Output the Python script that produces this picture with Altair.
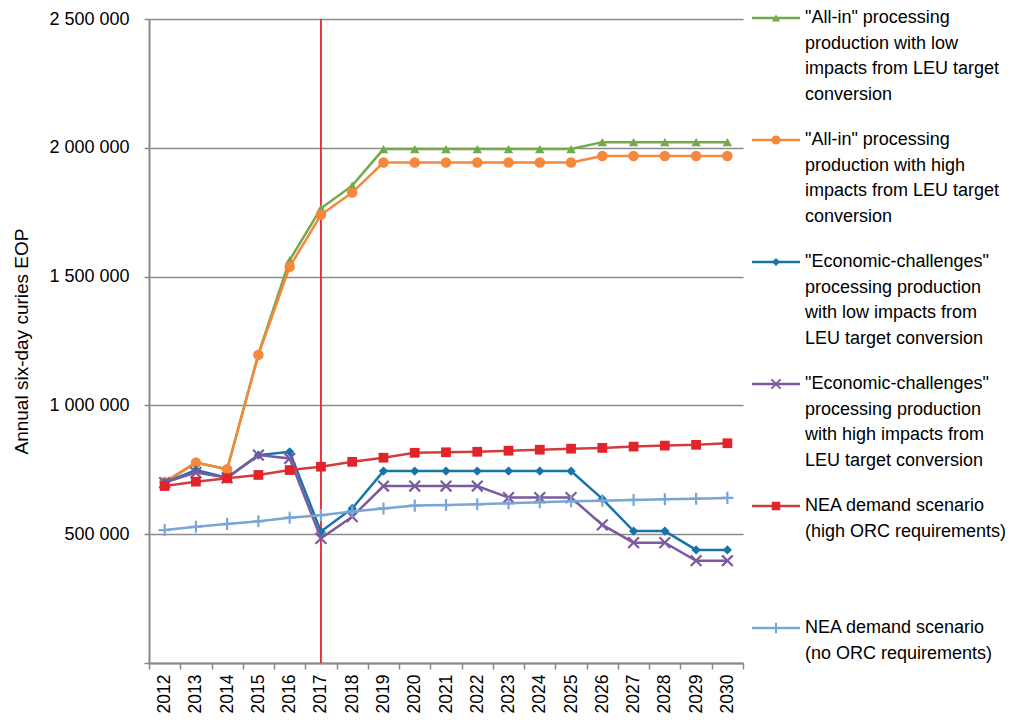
import altair as alt
import pandas as pd

# ---------------- data ----------------
years = list(range(2012, 2031))

allin_low = [700000, 778000, 752000, 1200000, 1564000, 1765000, 1853000,
             1995000, 1995000, 1995000, 1995000, 1995000, 1995000, 1995000,
             2022000, 2022000, 2022000, 2022000, 2022000]
allin_high = [703000, 778000, 752000, 1196000, 1538000, 1740000, 1826000,
              1943000, 1943000, 1943000, 1943000, 1943000, 1943000, 1943000,
              1968000, 1968000, 1968000, 1968000, 1968000]
econ_low = [700000, 749000, 719000, 807000, 820000, 510000, 600000,
            745000, 745000, 745000, 745000, 745000, 745000, 745000,
            637000, 512000, 512000, 439000, 439000]
econ_high = [700000, 739000, 719000, 807000, 794000, 484000, 568000,
             687000, 687000, 687000, 687000, 642000, 642000, 642000,
             536000, 467000, 467000, 397000, 397000]
nea_high = [687000, 704000, 717000, 730000, 749000, 762000, 781000,
            797000, 816000, 818000, 820000, 824000, 828000, 832000,
            835000, 840000, 844000, 847000, 853000]
nea_none = [516000, 529000, 540000, 550000, 564000, 574000, 588000,
            600000, 611000, 613000, 616000, 620000, 624000, 628000,
            630000, 633000, 636000, 638000, 641000]

series_labels = [
    '"All-in" processing\nproduction with low\nimpacts from LEU target\nconversion',
    '"All-in" processing\nproduction with high\nimpacts from LEU target\nconversion',
    '"Economic-challenges"\nprocessing production\nwith low impacts from\nLEU target conversion',
    '"Economic-challenges"\nprocessing production\nwith high impacts from\nLEU target conversion',
    'NEA demand scenario\n(high ORC requirements)',
    'NEA demand scenario\n(no ORC requirements)',
]
series_values = [allin_low, allin_high, econ_low, econ_high, nea_high, nea_none]

marker_year = [2017]
y_ticks = [0, 500000, 1000000, 1500000, 2000000, 2500000]
y_title = "Annual six-day curies EOP"

# ---------------- styles ----------------
FONT = "'Liberation Sans', Arial, sans-serif"
X_PATH = "M-1,-1L1,1M-1,1L1,-1"
PLUS_PATH = "M0,-1L0,1M-1,0L1,0"
styles = [
    dict(line="#72a94b", fill="#72a94b", shape="triangle-up", size=90, filled=True),
    dict(line="#f5883a", fill="#f5883a", shape="circle", size=110, filled=True),
    dict(line="#1874a8", fill="#1874a8", shape="diamond", size=85, filled=True),
    dict(line="#7b5a9e", fill="#7b5a9e", shape=X_PATH, size=115, filled=False),
    dict(line="#d23c3e", fill="#e3232a", shape="square", size=95, filled=True),
    dict(line="#7aa6d6", fill="#7aa6d6", shape=PLUS_PATH, size=145, filled=False),
]

rows = []
for si, (lab, vals) in enumerate(zip(series_labels, series_values)):
    for yr, v in zip(years, vals):
        rows.append({"year": yr, "value": v, "sid": si})
df = pd.DataFrame(rows)

W, H = 594, 644

x_enc = alt.X(
    "year:O",
    title=None,
    scale=alt.Scale(type="band", paddingInner=0, paddingOuter=0, domain=years),
    axis=alt.Axis(
        tickBand="extent", labelAngle=270, labelPadding=5, tickSize=6,
        labelFontSize=17.5, labelFont=FONT, labelColor="black",
        domainColor="#888888", domainWidth=2, tickColor="#888888", tickWidth=1.5,
        grid=False,
    ),
)
y_enc = alt.Y(
    "value:Q",
    title=y_title,
    scale=alt.Scale(domain=[0, 2500000], nice=False, zero=True),
    axis=alt.Axis(
        values=y_ticks,
        labelExpr="datum.value == 0 ? '' : replace(format(datum.value, ','), regexp(',', 'g'), ' ')",
        labelFontSize=18, labelFont=FONT, labelColor="black", labelPadding=15,
        tickSize=5, tickColor="#888888", tickWidth=1.5,
        domainColor="#888888", domainWidth=2,
        grid=True, gridColor="#8c8c8c", gridWidth=1.5,
        titleFont=FONT, titleFontSize=19, titleFontWeight="normal",
        titleColor="black", titlePadding=17,
    ),
)

layers = []

# red vertical marker line at 2017
vdf = pd.DataFrame({"year": marker_year})
layers.append(
    alt.Chart(vdf).mark_rule(color="#e8262b", strokeWidth=1.8).encode(x=x_enc)
)

for si, st in enumerate(styles):
    base = alt.Chart(df).transform_filter(alt.datum.sid == si)
    layers.append(
        base.mark_line(color=st["line"], strokeWidth=2.5).encode(x=x_enc, y=y_enc)
    )
    if st["filled"]:
        pt = base.mark_point(shape=st["shape"], size=st["size"], filled=True,
                             fill=st["fill"], color=st["fill"], opacity=1, strokeWidth=0)
    else:
        pt = base.mark_point(shape=st["shape"], size=st["size"], filled=False,
                             color=st["fill"], opacity=1, strokeWidth=2.2)
    layers.append(pt.encode(x=x_enc, y=y_enc))

# ---------------- custom legend (right of the plot) ----------------
dummy = pd.DataFrame({"a": [0]})
leg_x0, leg_x1, leg_text_x = W + 9, W + 57, W + 62
leg_top, leg_step = -1, 122
for si, (st, lab) in enumerate(zip(styles, series_labels)):
    yc = leg_top + leg_step * si
    layers.append(
        alt.Chart(dummy).mark_rule(color=st["line"], strokeWidth=2.4).encode(
            x=alt.value(leg_x0), x2=alt.value(leg_x1), y=alt.value(yc))
    )
    if st["filled"]:
        lp = alt.Chart(dummy).mark_point(shape=st["shape"], size=st["size"] * 0.75, filled=True,
                                         fill=st["fill"], color=st["fill"], opacity=1, strokeWidth=0)
    else:
        lp = alt.Chart(dummy).mark_point(shape=st["shape"], size=st["size"] * 0.75, filled=False,
                                         color=st["fill"], opacity=1, strokeWidth=2)
    layers.append(lp.encode(x=alt.value((leg_x0 + leg_x1) / 2), y=alt.value(yc)))
    layers.append(
        alt.Chart(dummy).mark_text(align="left", baseline="middle", font=FONT, fontSize=18,
                                   lineHeight=25.5, lineBreak="\n", color="black").encode(
            x=alt.value(leg_text_x), y=alt.value(yc), text=alt.value(lab))
    )

chart = alt.layer(*layers).properties(
    width=W, height=H,
    autosize=alt.AutoSizeParams(type="none"),
    padding={"left": 141, "top": 11, "right": 262, "bottom": 52},
    background="white",
).configure_view(stroke=None)

chart.save("out.html", embed_options={"renderer": "svg", "actions": False})
